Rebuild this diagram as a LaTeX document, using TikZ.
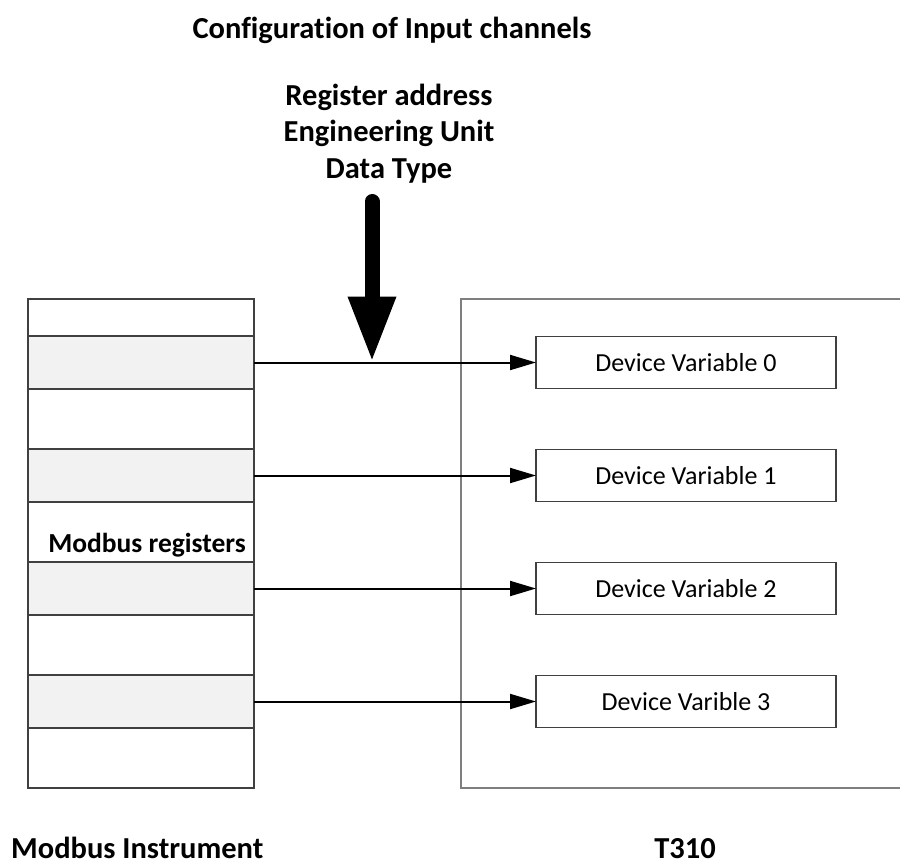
\documentclass[tikz,border=0pt]{standalone}
\usepackage{fontspec}
\setmainfont{Carlito}[Ligatures={NoCommon,NoRare,NoContextual}]
\usetikzlibrary{arrows.meta}
\definecolor{cellgray}{HTML}{F2F2F2}
\definecolor{edgedark}{HTML}{404040}
\definecolor{edgelight}{HTML}{7F7F7F}
\tikzset{
  cell/.style={draw=edgedark, line width=1.5pt, minimum width=226pt, inner sep=0pt, outer sep=0pt},
  regcell/.style={cell, fill=cellgray},
  varbox/.style={draw=edgedark, line width=1.5pt, minimum width=300pt, minimum height=52pt,
    inner sep=0pt, outer sep=0pt, font=\fontsize{26}{31}\selectfont},
  title/.style={font=\bfseries\fontsize{30.5}{36}\selectfont, inner sep=0pt, anchor=base},
  conn/.style={line width=2pt, -{Triangle[length=26pt,width=15pt]}},
  bigarrow/.style={line width=15pt, line cap=round, -{Triangle[length=66pt,width=44pt]}}
}
\begin{document}
\begin{tikzpicture}[x=1pt,y=-1pt]
\useasboundingbox (0,0) rectangle (900,865);

% titles (kern keeps "t" and "i" as separate glyphs)
\node[title] (cfg) at (392,38) {Configurat\kern0pt ion of Input channels};
\node[title] (ra) at (389,105) {Register address};
\node[title] (eu) at (389,141.5) {Engineering Unit};
\node[title] (dt) at (389,178) {Data Type};

% register column
\node[cell, minimum height=37pt] (r0) at (141,317.5) {};
\node[regcell, minimum height=53pt] (r1) at (141,362.5) {};
\node[cell, minimum height=60pt] (r2) at (141,419) {};
\node[regcell, minimum height=53pt] (r3) at (141,475.5) {};
\node[cell, minimum height=60pt] (r4) at (141,532) {};
\node[regcell, minimum height=53pt] (r5) at (141,588.5) {};
\node[cell, minimum height=60pt] (r6) at (141,645) {};
\node[regcell, minimum height=53pt] (r7) at (141,701.5) {};
\node[cell, minimum height=60pt] (r8) at (141,758) {};
\node[font=\bfseries\fontsize{27.5}{33}\selectfont, inner sep=0pt, anchor=base] (mreg) at (147,552) {Modbus registers};

% device frame, open on the right
\draw[edgelight, line width=1.5pt] (900,299) -- (461,299) -- (461,788) -- (900,788);

% device variables
\node[varbox] (dv0) at (686,362.5) {Device Variable 0};
\node[varbox] (dv1) at (686,475.5) {Device Variable 1};
\node[varbox] (dv2) at (686,588.5) {Device Variable 2};
\node[varbox] (dv3) at (686,701.5) {Device Varible 3};

% mappings
\draw[conn] (r1.east) -- (dv0.west);
\draw[conn] (r3.east) -- (dv1.west);
\draw[conn] (r5.east) -- (dv2.west);
\draw[conn] (r7.east) -- (dv3.west);

% configuration input
\coordinate (cfgtail) at (372,201.5);
\coordinate (cfgtip) at (372,362.5);
\draw[bigarrow] (cfgtail) -- (cfgtip);

% labels
\node[title, anchor=base west] (mi) at (11,858.5) {Modbus Instrument};
\node[title] (t310) at (685,858.5) {T310};
\end{tikzpicture}
\end{document}
